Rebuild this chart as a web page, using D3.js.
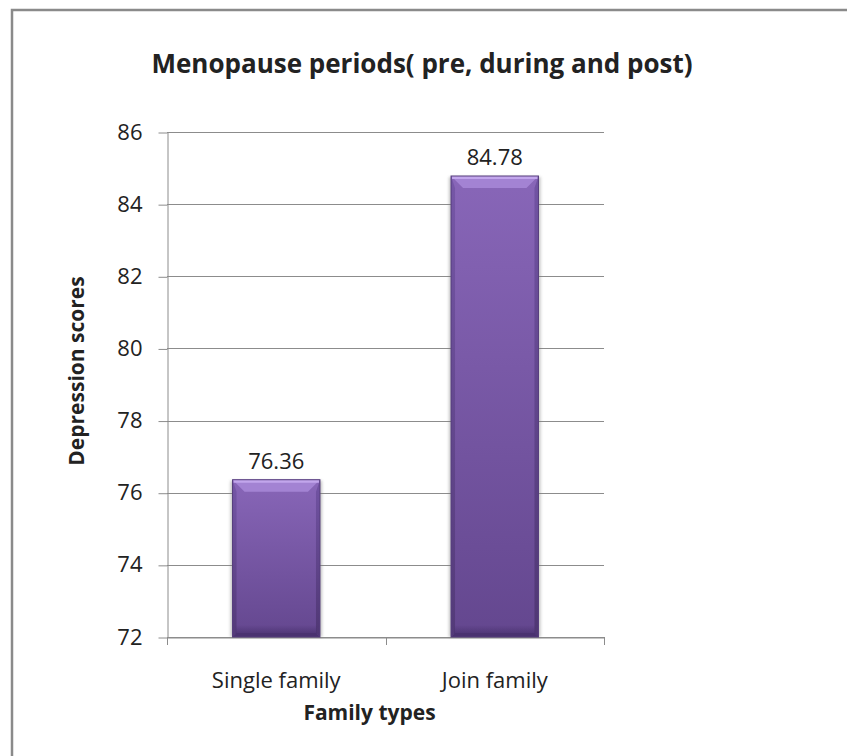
<!DOCTYPE html>
<html>
<head>
<meta charset="utf-8">
<script src="https://cdn.jsdelivr.net/npm/d3@7"></script>
<style>
  html, body { margin: 0; padding: 0; background: #fff; overflow: hidden; width: 847px; height: 756px; }
  svg { display: block; }
  text { font-family: "Open Sans", "Noto Sans", sans-serif; fill: #222; }
</style>
</head>
<body>
<svg id="chart" width="847" height="756"></svg>
<script>
// Chart data
const categories = ["Single family", "Join family"];
const values = [76.36, 84.78];
const yTicks = [72, 74, 76, 78, 80, 82, 84, 86];
const titleText = "Menopause periods( pre, during and post)";
const xTitle = "Family types";
const yTitle = "Depression scores";

const svg = d3.select("#chart");
const W = 847, H = 756;
const FONT = '"Open Sans", "Noto Sans", sans-serif';

// white page background
svg.append("rect").attr("width", W).attr("height", H).attr("fill", "#fff");

const plot = { left: 167, right: 604, top: 132, bottom: 637 };

const x = d3.scaleBand().domain(categories)
  .range([plot.left, plot.right]).paddingInner(0.6).paddingOuter(0.3);
const y = d3.scaleLinear().domain([72, 86]).range([plot.bottom, plot.top]);

// gradients and shadow filter
const defs = svg.append("defs");
const body = defs.append("linearGradient").attr("id", "barBody")
  .attr("x1", 0).attr("y1", 0).attr("x2", 0).attr("y2", 1);
body.append("stop").attr("offset", "0%").attr("stop-color", "#8866b8");
body.append("stop").attr("offset", "100%").attr("stop-color", "#64478f");
const side = defs.append("linearGradient").attr("id", "barSide")
  .attr("x1", 0).attr("y1", 0).attr("x2", 0).attr("y2", 1);
side.append("stop").attr("offset", "0%").attr("stop-color", "#6e50a0");
side.append("stop").attr("offset", "100%").attr("stop-color", "#4c346f");
const base = defs.append("linearGradient").attr("id", "barBase")
  .attr("x1", 0).attr("y1", 0).attr("x2", 0).attr("y2", 1);
base.append("stop").attr("offset", "0%").attr("stop-color", "#4a3270").attr("stop-opacity", 0);
base.append("stop").attr("offset", "100%").attr("stop-color", "#4a3270").attr("stop-opacity", 0.8);
defs.append("filter").attr("id", "soft").attr("x", "-20%").attr("y", "-20%")
  .attr("width", "140%").attr("height", "140%")
  .append("feGaussianBlur").attr("stdDeviation", 1.6);

// gridlines
svg.append("g").selectAll("line").data(yTicks).join("line")
  .attr("x1", plot.left).attr("x2", plot.right)
  .attr("y1", d => Math.round(y(d)) + 0.5).attr("y2", d => Math.round(y(d)) + 0.5)
  .attr("stroke", "#8c8c8c").attr("stroke-width", 1);

// y axis
const yAxis = svg.append("g")
  .attr("transform", `translate(${plot.left + 0.5},0)`)
  .call(d3.axisLeft(y).tickValues(yTicks).tickSizeInner(9).tickSizeOuter(0)
    .tickPadding(16).tickFormat(d3.format("d")));
yAxis.select(".domain").attr("stroke", "#8c8c8c");
yAxis.selectAll(".tick line").attr("stroke", "#8c8c8c").attr("transform", "translate(0,0.5)");
yAxis.selectAll("text").attr("font-size", 22).attr("fill", "#222")
  .style("font-family", FONT);

// x axis
const xAxis = svg.append("g")
  .attr("transform", `translate(0,${Math.round(y(72)) + 0.5})`)
  .call(d3.axisBottom(x).tickSize(0).tickPadding(35));
xAxis.select(".domain").attr("stroke", "#8c8c8c");
xAxis.selectAll("text").attr("font-size", 22).attr("fill", "#222")
  .style("font-family", FONT);
// tick marks at band boundaries
const bounds = [plot.left, (plot.left + plot.right) / 2, plot.right];
svg.append("g").selectAll("line").data(bounds).join("line")
  .attr("x1", d => Math.round(d) + 0.5).attr("x2", d => Math.round(d) + 0.5)
  .attr("y1", Math.round(y(72))).attr("y2", Math.round(y(72)) + 8)
  .attr("stroke", "#8c8c8c");

// bars with bevel
const bev = 12;
const bars = svg.append("g").selectAll("g").data(values).join("g");
bars.each(function(v, i) {
  const g = d3.select(this);
  const x0 = x(categories[i]), bw = x.bandwidth();
  const y0 = y(v), y1 = y(72);
  // soft shadow
  g.append("rect").attr("x", x0 - 2).attr("y", y0 + 1).attr("width", bw + 4).attr("height", y1 - y0 - 1)
    .attr("fill", "#777").attr("opacity", 0.45).attr("filter", "url(#soft)");
  g.append("rect").attr("x", x0).attr("y", y0).attr("width", bw).attr("height", y1 - y0)
    .attr("fill", "url(#barBody)");
  // left and right edges
  g.append("path").attr("d", `M${x0},${y0}L${x0 + 4},${y0 + bev}L${x0 + 4},${y1 - 4}L${x0},${y1}Z`)
    .attr("fill", "url(#barSide)").attr("opacity", 0.7);
  g.append("path").attr("d", `M${x0 + bw},${y0}L${x0 + bw - 4},${y0 + bev}L${x0 + bw - 4},${y1 - 4}L${x0 + bw},${y1}Z`)
    .attr("fill", "url(#barSide)").attr("opacity", 0.85);
  // top bevel
  g.append("path").attr("d", `M${x0},${y0}L${x0 + bw},${y0}L${x0 + bw - bev},${y0 + bev}L${x0 + bev},${y0 + bev}Z`)
    .attr("fill", "#a383d3");
  g.append("rect").attr("x", x0 + 1).attr("y", y0).attr("width", bw - 2).attr("height", 3)
    .attr("fill", "#c2a6ec");
  // darker base band
  g.append("rect").attr("x", x0 + 3).attr("y", y1 - 12).attr("width", bw - 6).attr("height", 9)
    .attr("fill", "url(#barBase)");
  g.append("path").attr("d", `M${x0},${y1}L${x0 + bw},${y1}L${x0 + bw - 4},${y1 - 4}L${x0 + 4},${y1 - 4}Z`)
    .attr("fill", "#4a3270");
  g.append("rect").attr("x", x0).attr("y", y0).attr("width", bw).attr("height", y1 - y0)
    .attr("fill", "none").attr("stroke", "#553d7c").attr("stroke-width", 1);
  // value label
  g.append("text").attr("x", x0 + bw / 2).attr("y", y0 - 11)
    .attr("text-anchor", "middle").attr("font-size", 22).text(d3.format(".2f")(v));
});

// titles
svg.append("text").attr("x", 422).attr("y", 73).attr("text-anchor", "middle")
  .attr("font-size", 26).attr("font-weight", "bold").attr("fill", "#000").text(titleText);
svg.append("text").attr("x", (plot.left + plot.right) / 2 - 16).attr("y", 720).attr("text-anchor", "middle")
  .attr("font-size", 21).attr("font-weight", "bold").attr("fill", "#000").text(xTitle);
svg.append("text").attr("transform", `translate(84,371) rotate(-90)`)
  .attr("text-anchor", "middle").attr("font-size", 21).attr("font-weight", "bold").attr("fill", "#000")
  .text(yTitle);

// chart frame: top and left edges only, running off the canvas
svg.append("rect").attr("x", W - 12).attr("y", 0).attr("width", 12).attr("height", H).attr("fill", "#fff");
svg.append("path")
  .attr("d", `M12,${H + 5}L12,10L${W + 5},10`)
  .attr("fill", "none").attr("stroke", "#8a8a8a").attr("stroke-width", 2.5);
</script>
</body>
</html>
